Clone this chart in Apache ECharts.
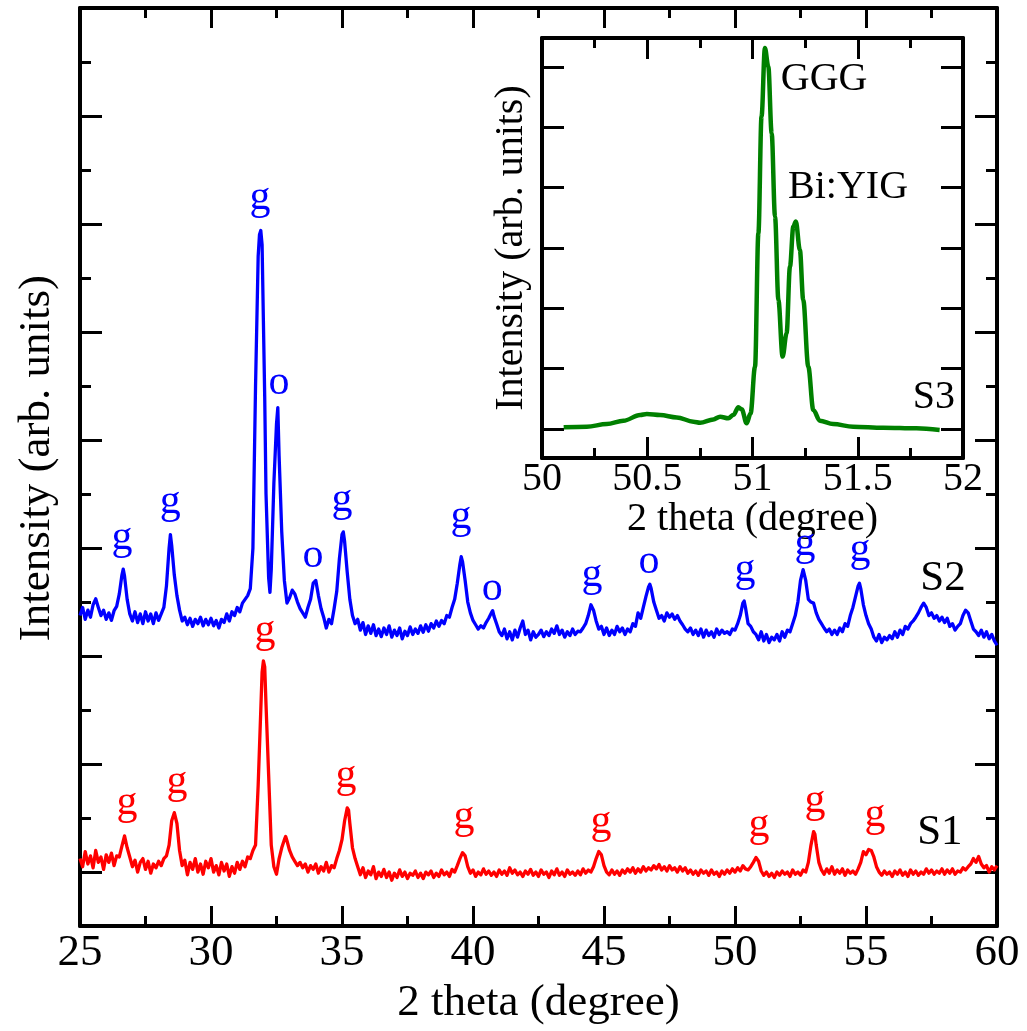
<!DOCTYPE html>
<html>
<head>
<meta charset="utf-8">
<script src="https://cdn.jsdelivr.net/npm/echarts@6/dist/echarts.min.js"></script>
<style>
  html, body { margin: 0; padding: 0; background: #fff; }
  #chart { width: 1027px; height: 1031px; }
</style>
</head>
<body>
<div id="chart"></div>
<script>
// XRD patterns, 2-theta in degrees vs. intensity (arbitrary units, offset per sample)
const s2Pattern = [
  [25.0,575],[25.1,590],[25.2,568],[25.3,585],[25.4,572],[25.5,595],[25.6,606],[25.7,590],[25.8,575],[25.9,585],
  [26.0,568],[26.1,580],[26.2,566],[26.3,584],[26.4,592],[26.5,615],[26.6,650],[26.65,661],[26.7,648],[26.8,605],[26.9,578],
  [27.0,565],[27.1,582],[27.2,562],[27.3,578],[27.4,560],[27.5,582],[27.6,565],[27.7,578],[27.8,560],[27.9,580],
  [28.0,566],[28.1,578],[28.2,590],[28.3,630],[28.4,700],[28.45,725],[28.5,705],[28.6,650],[28.7,612],[28.8,585],[28.9,565],
  [29.0,572],[29.1,558],[29.2,570],[29.3,555],[29.4,568],[29.5,560],[29.6,572],[29.7,556],[29.8,568],[29.9,558],
  [30.0,570],[30.1,556],[30.2,566],[30.3,552],[30.4,568],[30.5,562],[30.6,578],[30.7,565],[30.8,582],[30.9,575],
  [31.0,590],[31.1,582],[31.2,598],[31.3,605],[31.4,612],[31.5,625],[31.6,700],[31.7,1000],[31.8,1240],[31.85,1280],
  [31.9,1288],[31.95,1262],[32.0,1120],[32.05,980],[32.1,800],[32.2,645],[32.25,618],[32.3,660],[32.4,820],[32.5,930],
  [32.55,960],[32.6,870],[32.65,800],[32.7,730],[32.8,640],[32.9,598],
  [33.0,608],[33.1,622],[33.2,615],[33.3,600],[33.4,588],[33.5,580],[33.6,572],[33.7,590],[33.8,605],[33.9,635],
  [34.0,640],[34.1,612],[34.2,588],[34.3,572],[34.4,552],[34.5,568],[34.6,560],[34.7,588],[34.8,620],[34.9,680],
  [35.0,725],[35.05,730],[35.1,712],[35.2,655],[35.3,605],[35.4,575],[35.5,560],[35.6,568],[35.7,548],[35.8,562],[35.9,540],
  [36.0,556],[36.1,542],[36.2,558],[36.3,538],[36.4,550],[36.5,536],[36.6,552],[36.7,540],[36.8,556],[36.9,535],
  [37.0,548],[37.1,538],[37.2,552],[37.3,532],[37.4,546],[37.5,538],[37.6,554],[37.7,540],[37.8,550],[37.9,542],
  [38.0,556],[38.1,544],[38.2,558],[38.3,546],[38.4,560],[38.5,552],[38.6,565],[38.7,555],[38.8,566],[38.9,560],
  [39.0,575],[39.1,572],[39.2,590],[39.3,605],[39.4,635],[39.5,670],[39.55,684],[39.6,675],[39.7,640],[39.8,600],[39.9,580],
  [40.0,566],[40.1,558],[40.2,550],[40.3,556],[40.4,552],[40.5,562],[40.6,570],[40.7,580],[40.75,584],[40.8,574],[40.9,560],
  [41.0,545],[41.1,538],[41.2,550],[41.3,532],[41.4,545],[41.5,530],[41.6,548],[41.7,535],[41.8,552],[41.9,565],
  [42.0,540],[42.1,548],[42.2,530],[42.3,545],[42.4,535],[42.5,540],[42.6,548],[42.7,536],[42.8,545],[42.9,538],
  [43.0,550],[43.1,542],[43.2,556],[43.3,540],[43.4,548],[43.5,535],[43.6,545],[43.7,538],[43.8,550],[43.9,540],
  [44.0,546],[44.1,545],[44.2,552],[44.3,560],[44.4,575],[44.5,595],[44.55,598],[44.6,585],[44.7,565],[44.8,550],[44.9,555],
  [45.0,540],[45.1,552],[45.2,538],[45.3,548],[45.4,540],[45.5,555],[45.6,545],[45.7,552],[45.8,540],[45.9,550],
  [46.0,545],[46.1,560],[46.2,555],[46.3,580],[46.4,570],[46.5,590],[46.6,610],[46.7,628],[46.75,633],[46.8,625],[46.9,600],
  [47.0,585],[47.1,570],[47.2,575],[47.3,565],[47.4,580],[47.5,572],[47.6,578],[47.7,568],[47.8,575],[47.9,565],
  [48.0,558],[48.1,550],[48.2,545],[48.3,552],[48.4,540],[48.5,548],[48.6,538],[48.7,550],[48.8,535],[48.9,548],
  [49.0,538],[49.1,545],[49.2,535],[49.3,550],[49.4,540],[49.5,548],[49.6,542],[49.7,545],[49.8,540],[49.9,550],
  [50.0,548],[50.1,560],[50.2,575],[50.3,598],[50.35,602],[50.4,590],[50.5,560],[50.6,555],[50.7,545],[50.8,540],[50.9,530],
  [51.0,545],[51.1,528],[51.2,540],[51.3,525],[51.4,535],[51.5,530],[51.6,540],[51.7,528],[51.8,545],[51.9,535],
  [52.0,548],[52.1,545],[52.2,560],[52.3,575],[52.4,600],[52.5,640],[52.6,660],[52.65,662],[52.7,640],[52.8,605],[52.9,600],
  [53.0,598],[53.1,580],[53.2,568],[53.3,560],[53.4,552],[53.5,545],[53.6,550],[53.7,540],[53.8,548],[53.9,540],
  [54.0,552],[54.1,545],[54.2,560],[54.3,555],[54.4,575],[54.5,590],[54.6,610],[54.7,630],[54.75,635],[54.8,625],[54.9,595],
  [55.0,575],[55.1,560],[55.2,550],[55.3,535],[55.4,528],[55.5,540],[55.6,525],[55.7,535],[55.8,530],[55.9,538],
  [56.0,532],[56.1,545],[56.2,535],[56.3,548],[56.4,540],[56.5,555],[56.6,550],[56.7,560],[56.8,565],[56.9,572],
  [57.0,580],[57.1,590],[57.2,598],[57.25,600],[57.3,590],[57.4,575],[57.5,580],[57.6,570],[57.7,575],[57.8,565],[57.9,572],
  [58.0,562],[58.1,570],[58.2,555],[58.3,560],[58.4,548],[58.5,555],[58.6,560],[58.7,575],[58.8,585],[58.9,580],
  [59.0,565],[59.1,550],[59.2,545],[59.3,538],[59.4,548],[59.5,535],[59.6,545],[59.7,532],[59.8,540],[59.9,528],[60.0,520]
];

const s1Pattern = [
  [25.0,125],[25.1,110],[25.2,138],[25.3,115],[25.4,130],[25.5,108],[25.6,140],[25.7,118],[25.8,128],[25.9,105],
  [26.0,132],[26.1,118],[26.2,135],[26.3,112],[26.4,130],[26.5,128],[26.6,148],[26.7,167],[26.8,145],[26.9,128],
  [27.0,110],[27.1,122],[27.2,100],[27.3,118],[27.4,125],[27.5,105],[27.6,120],[27.7,98],[27.8,115],[27.9,108],
  [28.0,120],[28.1,112],[28.2,125],[28.3,130],[28.4,150],[28.5,195],[28.6,210],[28.7,190],[28.8,140],[28.9,112],
  [29.0,122],[29.1,95],[29.2,118],[29.3,105],[29.4,125],[29.5,100],[29.6,115],[29.7,96],[29.8,120],[29.9,108],
  [30.0,125],[30.1,100],[30.2,112],[30.3,95],[30.4,118],[30.5,102],[30.6,115],[30.7,92],[30.8,110],[30.9,98],
  [31.0,118],[31.1,105],[31.2,120],[31.3,110],[31.4,128],[31.5,125],[31.6,140],[31.7,150],[31.8,260],[31.9,400],
  [31.95,470],[32.0,491],[32.05,480],[32.1,410],[32.2,280],[32.3,150],[32.4,110],[32.5,96],[32.6,125],[32.7,145],
  [32.8,160],[32.85,166],[32.9,158],[33.0,140],[33.1,128],[33.2,120],[33.3,112],[33.4,118],[33.5,108],[33.6,115],
  [33.7,100],[33.8,112],[33.9,105],[34.0,115],[34.1,98],[34.2,110],[34.3,102],[34.4,118],[34.5,100],[34.6,112],
  [34.7,108],[34.8,125],[34.9,140],[35.0,160],[35.1,195],[35.2,219],[35.25,215],[35.3,190],[35.4,145],[35.5,125],
  [35.6,110],[35.7,95],[35.8,108],[35.9,90],[36.0,102],[36.1,95],[36.2,110],[36.3,88],[36.4,100],[36.5,92],
  [36.6,105],[36.7,90],[36.8,100],[36.9,85],[37.0,98],[37.1,90],[37.2,104],[37.3,92],[37.4,100],[37.5,88],
  [37.6,98],[37.7,94],[37.8,102],[37.9,90],[38.0,98],[38.1,88],[38.2,100],[38.3,95],[38.4,102],[38.5,90],
  [38.6,98],[38.7,92],[38.8,104],[38.9,95],[39.0,100],[39.1,92],[39.2,105],[39.3,100],[39.4,112],[39.5,125],
  [39.6,136],[39.7,130],[39.8,110],[39.9,98],[40.0,104],[40.1,92],[40.2,100],[40.3,95],[40.4,106],[40.5,96],
  [40.6,102],[40.7,94],[40.8,100],[40.9,92],[41.0,104],[41.1,96],[41.2,102],[41.3,94],[41.4,108],[41.5,98],
  [41.6,104],[41.7,95],[41.8,100],[41.9,92],[42.0,102],[42.1,96],[42.2,105],[42.3,94],[42.4,100],[42.5,92],
  [42.6,104],[42.7,96],[42.8,100],[42.9,90],[43.0,102],[43.1,95],[43.2,106],[43.3,94],[43.4,100],[43.5,92],
  [43.6,104],[43.7,96],[43.8,100],[43.9,94],[44.0,102],[44.1,95],[44.2,106],[44.3,98],[44.4,104],[44.5,100],
  [44.6,110],[44.7,125],[44.8,138],[44.9,132],[45.0,112],[45.1,100],[45.2,95],[45.3,104],[45.4,96],[45.5,102],
  [45.6,94],[45.7,104],[45.8,98],[45.9,106],[46.0,100],[46.1,108],[46.2,98],[46.3,106],[46.4,100],[46.5,110],
  [46.6,102],[46.7,108],[46.8,104],[46.9,112],[47.0,106],[47.1,114],[47.2,104],[47.3,110],[47.4,102],[47.5,112],
  [47.6,104],[47.7,108],[47.8,100],[47.9,110],[48.0,102],[48.1,108],[48.2,98],[48.3,104],[48.4,96],[48.5,102],
  [48.6,94],[48.7,104],[48.8,98],[48.9,102],[49.0,94],[49.1,104],[49.2,96],[49.3,100],[49.4,92],[49.5,102],
  [49.6,96],[49.7,104],[49.8,98],[49.9,106],[50.0,100],[50.1,108],[50.2,102],[50.3,112],[50.4,106],[50.5,104],
  [50.6,110],[50.7,118],[50.8,127],[50.9,120],[51.0,102],[51.1,94],[51.2,100],[51.3,92],[51.4,98],[51.5,90],
  [51.6,100],[51.7,94],[51.8,102],[51.9,96],[52.0,100],[52.1,92],[52.2,104],[52.3,96],[52.4,100],[52.5,94],
  [52.6,104],[52.7,100],[52.8,118],[52.9,150],[53.0,175],[53.05,170],[53.1,150],[53.2,118],[53.3,104],[53.4,96],
  [53.5,106],[53.6,98],[53.7,110],[53.8,96],[53.9,104],[54.0,98],[54.1,106],[54.2,94],[54.3,104],[54.4,98],
  [54.5,102],[54.6,96],[54.7,106],[54.8,118],[54.9,138],[55.0,132],[55.1,142],[55.2,140],[55.3,128],[55.4,110],
  [55.5,100],[55.6,94],[55.7,102],[55.8,96],[55.9,100],[56.0,92],[56.1,102],[56.2,96],[56.3,104],[56.4,94],
  [56.5,100],[56.6,92],[56.7,104],[56.8,96],[56.9,102],[57.0,94],[57.1,100],[57.2,96],[57.3,106],[57.4,98],
  [57.5,104],[57.6,96],[57.7,102],[57.8,98],[57.9,106],[58.0,96],[58.1,104],[58.2,98],[58.3,106],[58.4,96],
  [58.5,102],[58.6,100],[58.7,108],[58.8,104],[58.9,110],[59.0,115],[59.1,125],[59.2,118],[59.3,129],[59.4,115],
  [59.5,108],[59.6,112],[59.7,100],[59.8,110],[59.9,104],[60.0,112]
];

// S3: fine scan around the (642) reflection
const s3Scan = [
  [50.103,2.8],[50.213,3.9],[50.308,8.3],[50.387,13.8],[50.466,23.2],[50.498,24.9],[50.561,23.2],[50.640,19.3],
  [50.719,12.2],[50.751,10.5],[50.814,16.0],[50.846,20.5],[50.885,17.7],[50.909,23.2],[50.933,35.9],[50.949,32.6],
  [50.972,9.4],[50.991,26.0],[51.012,103.4],[51.028,324.5],[51.043,518.0],[51.059,631.3],[51.075,600.9],[51.091,490.3],
  [51.107,352.1],[51.123,213.9],[51.143,120.0],[51.162,158.7],[51.178,269.2],[51.194,335.5],[51.206,343.8],[51.225,296.8],
  [51.241,213.9],[51.265,103.4],[51.289,31.5],[51.320,13.8],[51.383,8.3],[51.478,3.9],[51.621,2.2],[51.779,1.1],[51.889,-1.7]
];

// Phase markers: [2-theta, intensity, text]  (g = garnet, o = other phase)
const s2Marks = [
  [26.60,718,'g'],[28.44,786,'g'],[31.87,1349,'g'],[32.60,1005,'o'],[33.89,686,'o'],[35.00,789,'g'],
  [39.54,758,'g'],[40.73,624,'o'],[44.54,651,'g'],[46.72,675,'o'],[50.38,659,'g'],[52.67,708,'g'],[54.77,696,'g']
];
const s1Marks = [
  [26.79,228,'g'],[28.70,267,'g'],[32.06,546,'g'],[35.15,278,'g'],[39.66,202,'g'],
  [44.89,193,'g'],[50.92,188,'g'],[53.05,232,'g'],[55.34,206,'g']
];
const sampleNames = [[57.94,644,'S2'],[57.82,173,'S1']];
const insetNames = [[51.34,579,'GGG'],[51.454,400,'Bi:YIG'],[51.862,53,'S3']];

const FONT = "'Liberation Serif', 'Times New Roman', serif";
const BLUE = '#0000ff', RED = '#ff0000', GREEN = '#008000', INK = '#000';

const axisLine = { show: true, onZero: false, lineStyle: { color: INK, width: 4 } };
const tickStyle = { color: INK, width: 3 };

function xAxisMain(position, labels) {
  return {
    type: 'value', gridIndex: 0, position, min: 25, max: 60, interval: 5,
    axisLine, splitLine: { show: false },
    axisTick: { show: true, inside: true, length: 20, lineStyle: tickStyle },
    minorTick: { show: true, splitNumber: 2, length: 10, lineStyle: tickStyle },
    axisLabel: { show: labels, margin: 5, fontSize: 45, fontFamily: FONT, color: INK },
    name: labels ? '2 theta (degree)' : '', nameLocation: 'middle', nameGap: 45,
    nameTextStyle: { fontSize: 45, fontFamily: FONT, color: INK }
  };
}
function xAxisInset(position, labels) {
  return {
    type: 'value', gridIndex: 1, position, min: 50, max: 52, interval: 0.5,
    axisLine, splitLine: { show: false },
    axisTick: { show: true, inside: true, length: 21, lineStyle: tickStyle },
    minorTick: { show: true, splitNumber: 2, length: 10, lineStyle: tickStyle },
    axisLabel: { show: labels, margin: 1, fontSize: 40, fontFamily: FONT, color: INK },
    name: labels ? '2 theta (degree)' : '', nameLocation: 'middle', nameGap: 35,
    nameTextStyle: { fontSize: 40, fontFamily: FONT, color: INK }
  };
}
// main frame: short ticks every 100, long ticks on the odd hundreds (inverse axis counted from the top)
function yAxisMain(position, long) {
  return {
    type: 'value', gridIndex: 0, position, min: 0, max: 1700, interval: long ? 200 : 100, inverse: long,
    axisLine: long ? { show: false } : axisLine, splitLine: { show: false },
    axisTick: { show: true, inside: true, length: long ? 22 : 11, lineStyle: tickStyle },
    axisLabel: { show: false },
    name: (!long && position === 'left') ? 'Intensity (arb. units)' : '',
    nameLocation: 'middle', nameGap: 20,
    nameTextStyle: { fontSize: 45, fontFamily: FONT, color: INK, padding: [0, 0, 0, 18] }
  };
}
function yAxisInset(position) {
  return {
    type: 'value', gridIndex: 1, position, min: -48, max: 648,
    axisLine, splitLine: { show: false }, axisTick: { show: false }, axisLabel: { show: false },
    name: position === 'left' ? 'Intensity (arb. units)' : '',
    nameLocation: 'middle', nameGap: 11,
    nameTextStyle: { fontSize: 40, fontFamily: FONT, color: INK }
  };
}
function yAxisInsetTicks(position) {
  return {
    type: 'value', gridIndex: 2, position, min: 0, max: 6, interval: 1,
    axisLine: { show: false }, splitLine: { show: false },
    axisTick: { show: true, inside: true, length: 22, lineStyle: tickStyle },
    axisLabel: { show: false }
  };
}

function markSeries(list, xi, yi, color, size) {
  return {
    type: 'scatter', xAxisIndex: xi, yAxisIndex: yi, silent: true, symbolSize: 1,
    itemStyle: { color: 'transparent', opacity: 1 }, z: 5,
    data: list.map(([x, y, t]) => ({ value: [x, y], name: t })),
    label: { show: true, position: 'inside', formatter: p => p.name, opacity: 1,
      fontSize: size, fontFamily: FONT, color }
  };
}

const chart = echarts.init(document.getElementById('chart'), null, { renderer: 'canvas' });
chart.setOption({
  animation: false,
  backgroundColor: '#fff',
  grid: [
    { left: 80, right: 30, top: 8, bottom: 99 },
    { left: 542, right: 64, top: 38, bottom: 573, show: true, backgroundColor: '#fff', borderWidth: 0 },
    { left: 542, right: 64, top: 67, bottom: 602 }
  ],
  xAxis: [
    xAxisMain('bottom', true), xAxisMain('top', false),
    xAxisInset('bottom', true), xAxisInset('top', false),
    { type: 'value', gridIndex: 2, min: 0, max: 1, show: false }
  ],
  yAxis: [
    yAxisMain('left', false), yAxisMain('left', true),
    yAxisMain('right', false), yAxisMain('right', true),
    yAxisInset('left'), yAxisInset('right'),
    yAxisInsetTicks('left'), yAxisInsetTicks('right')
  ],
  series: [
    { type: 'line', name: 'S2', xAxisIndex: 0, yAxisIndex: 0, data: s2Pattern, showSymbol: false,
      lineStyle: { color: BLUE, width: 3.3, join: 'round' } },
    { type: 'line', name: 'S1', xAxisIndex: 0, yAxisIndex: 0, data: s1Pattern, showSymbol: false,
      lineStyle: { color: RED, width: 3.3, join: 'round' } },
    { type: 'line', name: 'S3', xAxisIndex: 2, yAxisIndex: 4, data: s3Scan, showSymbol: false,
      smooth: 0.35, smoothMonotone: 'x', lineStyle: { color: GREEN, width: 4.5 } },
    markSeries(s2Marks, 0, 0, BLUE, 42),
    markSeries(s1Marks, 0, 0, RED, 42),
    markSeries(sampleNames, 0, 0, INK, 43),
    markSeries(insetNames, 2, 4, INK, 40)
  ]
});
</script>
</body>
</html>
